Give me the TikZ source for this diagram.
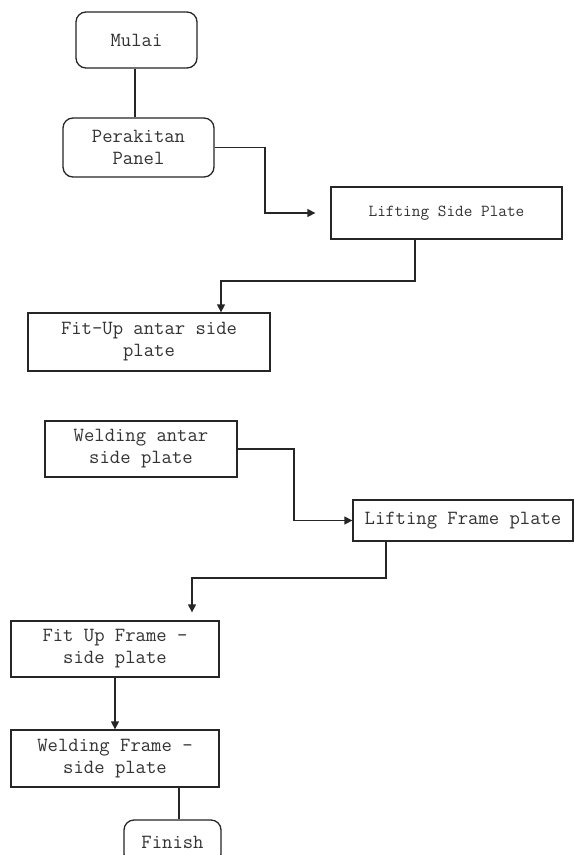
\documentclass[tikz,border=0pt]{standalone}
\usepackage{fontspec}
\usetikzlibrary{arrows.meta}
\begin{document}
\begin{tikzpicture}[x=1pt,y=-1pt,
  base/.style={draw=black!85, line width=1.3pt, inner sep=0pt, align=center,
    text=black!80, font=\ttfamily\fontsize{20.1}{22}\selectfont},
  rbox/.style={base, rounded corners=10pt},
  sbox/.style={base},
  conn/.style={draw=black!85, line width=1.3pt},
  arr/.style={conn, -{Triangle[length=8pt,width=8pt]}}]
\useasboundingbox (0,0) rectangle (574,855);
\clip (0,0) rectangle (574,855);
\fill[white] (0,0) rectangle (574,855);

\node[rbox, minimum width=121pt, minimum height=56pt] (mulai) at (136.5,40) {Mulai};
\node[rbox, minimum width=151pt, minimum height=59pt] (perakitan) at (138.5,147.5) {Perakitan\\Panel};
\node[sbox, minimum width=231pt, minimum height=52pt, font=\ttfamily\fontsize{16.8}{20}\selectfont] (lsp) at (446.5,213) {Lifting Side Plate};
\node[sbox, minimum width=242pt, minimum height=58pt] (fitup1) at (149,342) {Fit-Up antar side\\plate};
\node[sbox, minimum width=192pt, minimum height=56pt] (weld1) at (141,449) {Welding antar\\side plate};
\node[sbox, minimum width=220pt, minimum height=41pt] (lfp) at (463,520.5) {Lifting Frame plate};
\node[sbox, minimum width=208pt, minimum height=56pt] (fitup2) at (115,649) {Fit Up Frame -\\side plate};
\node[sbox, minimum width=208pt, minimum height=57pt] (weld2) at (115,758.5) {Welding Frame -\\side plate};
\node[rbox, minimum width=97pt, minimum height=44pt] (finish) at (172.5,842) {Finish};

\coordinate (b1) at (265,0);
\coordinate (b2) at (415,281);
\coordinate (b3) at (221,281);
\coordinate (b4) at (294,0);
\coordinate (b5) at (386,578);
\coordinate (b6) at (192,578);
\coordinate (b7) at (179,0);
\coordinate (b0) at (135,0);

\draw[conn] (b0 |- mulai.south) -- (b0 |- perakitan.north);
\draw[arr, shorten >=15pt] (perakitan.east) -- (perakitan.east -| b1) -- (b1 |- lsp.west) -- (lsp.west);
\draw[arr] (b2 |- lsp.south) -- (b2) -- (b3) -- (b3 |- fitup1.north);
\draw[arr] (weld1.east) -- (weld1.east -| b4) -- (b4 |- lfp.west) -- (lfp.west);
\draw[arr, shorten >=8pt] (b5 |- lfp.south) -- (b5) -- (b6) -- (b6 |- fitup2.north);
\draw[arr] (fitup2.south) -- (weld2.north);
\draw[conn] (b7 |- weld2.south) -- (b7 |- finish.north);
\end{tikzpicture}
\end{document}
